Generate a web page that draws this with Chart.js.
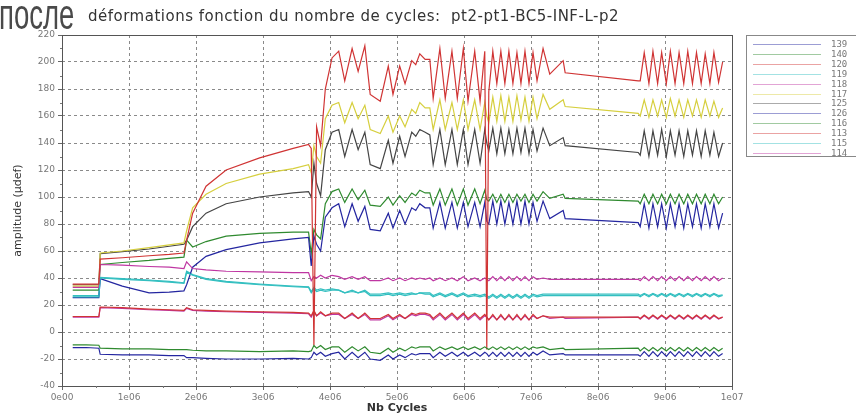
<!DOCTYPE html>
<html>
<head>
<meta charset="utf-8">
<script src="https://cdn.jsdelivr.net/npm/chart.js@4"></script>
<style>
  body { margin: 0; background: #fff; }
  #wrap { position: relative; width: 856px; height: 416px; overflow: hidden; }
  #bigword { position: absolute; left: -1px; top: -10px; font-family: "Liberation Sans", sans-serif; font-size: 43px; color: #4a4a4a; transform: scaleX(0.64); transform-origin: left top; white-space: nowrap; }
  #title { position: absolute; left: 88px; top: 7px; font-family: "DejaVu Sans", sans-serif; font-size: 15px; letter-spacing: 0.5px; color: #333; white-space: pre; }
  canvas { position: absolute; left: 0; top: 0; }
</style>
</head>
<body>
<div id="wrap">
  <canvas id="strainChart" width="856" height="416"></canvas>
  <div id="bigword">после</div>
  <div id="title">déformations fonction du nombre de cycles:  pt2-pt1-BC5-INF-L-p2</div>
</div>
<script>
// nb cycles, in millions
const cycles = [
    0.16, 0.36, 0.55,
    0.57, 0.9, 1.3, 1.6, 1.82,
    1.86, 1.95, 2.15, 2.45, 2.95, 3.45, 3.68,
    3.72, 3.76, 3.80, 3.86, 3.93,
    4.03, 4.13, 4.22, 4.33, 4.42, 4.52, 4.60, 4.75, 4.87, 4.94, 5.04, 5.12, 5.22, 5.28, 5.34, 5.42, 5.49, 5.54, 5.64, 5.72, 5.82, 5.90, 5.99, 6.06, 6.16, 6.24, 6.31,
    6.34, 6.37, 6.43, 6.49, 6.55, 6.61, 6.67, 6.73, 6.79, 6.85, 6.91, 6.97, 7.03, 7.09,
    7.18, 7.28, 7.48, 7.51, 8.60,
    8.63, 8.69, 8.76, 8.82, 8.89, 8.95, 9.02, 9.08, 9.15, 9.21, 9.28, 9.34, 9.41, 9.47, 9.54, 9.60, 9.67, 9.73, 9.80, 9.86
];

const gauges = ['139', '140', '120', '119', '118', '117', '125', '126', '116', '113', '115', '114'];

const g139 = [
    -11.5, -11.5, -12,
    -16.5, -17, -17, -17.5, -17.5,
    -19, -19, -19.5, -20, -20, -19.5, -20,
    -19, -15, -17, -15, -18,
    -16, -15, -20, -15, -19, -15, -20, -21, -17, -20, -17, -19, -16, -17, -16, -16, -16, -19, -15, -18, -15, -18, -15, -18, -15, -18, -15,
    -16, -18, -15, -18, -15, -18, -15, -18, -15, -18, -15, -18, -15, -17,
    -14, -17, -16, -17, -17,
    -18, -14.5, -18, -14.5, -18, -14.5, -18, -14.5, -18, -14.5, -18, -14.5, -18, -14.5, -18, -14.5, -18, -14.5, -18, -16
];
const g140 = [
    -9.6, -9.6, -9.8,
    -12, -12.5, -12.5, -13, -13,
    -13, -13.5, -14, -14, -14.5, -14, -14.5,
    -14, -10, -12, -10, -13,
    -11, -11, -15, -11, -14, -11, -15, -16, -12, -15, -12, -14, -11, -12, -11, -11, -11, -14, -11, -13, -11, -13, -11, -13, -11, -13, -11,
    -12, -13, -11, -13, -11, -13, -11, -13, -11, -13, -11, -13, -11, -12,
    -11, -13, -12, -13, -12,
    -14, -11.5, -14, -11.5, -14, -11.5, -14, -11.5, -14, -11.5, -14, -11.5, -14, -11.5, -14, -11.5, -14, -11.5, -14, -12
];
const g120 = [
    35.5, 35.5, 35.5,
    54, 55, 56.5, 57.5, 58.5,
    68, 88, 108, 120, 129, 136, 139,
    136, -10, 152, 138, 180,
    203, 208, 186, 210, 193, 212, 176, 171, 197, 176, 197, 184, 201, 198, 206, 202, 202, 173, 210, 173, 208, 173, 210, 171, 208, 171, 208,
    -13, 178, 208, 184, 208, 184, 208, 184, 207, 184, 208, 184, 207, 186,
    210, 191, 201, 192, 186,
    186, 207, 184, 208, 184, 207, 184, 208, 184, 207, 184, 208, 184, 207, 184, 206, 184, 207, 185, 200
];
const g119 = [
    26, 26, 26,
    40, 39, 38, 37, 36,
    44, 42, 39, 37, 35, 33.5, 33,
    29, 32, 30, 31, 30,
    31, 31, 29, 30, 29, 30, 27, 27, 28, 27, 28, 27, 28, 28, 29, 28, 28, 26, 28, 26, 28, 26, 28, 26, 27, 26, 27,
    26, 25, 27, 25, 27, 25, 27, 25, 27, 25, 27, 25, 27, 26,
    27, 27, 27, 27, 27,
    26, 28, 26, 28, 26, 28, 26, 28, 26, 28, 26, 28, 26, 28, 26, 28, 26, 28, 26, 27
];
const g118 = [
    33, 33, 33,
    50, 49.5, 48.5, 48, 47,
    52, 47, 46, 45, 44.5, 44, 44,
    38, 41, 40, 42, 40,
    42, 41, 39, 41, 39, 41, 38, 38, 40, 38, 40, 38, 40, 39, 40, 39, 40, 38, 40, 38, 40, 38, 41, 38, 40, 38, 40,
    39, 38, 41, 38, 41, 38, 41, 38, 41, 38, 41, 38, 41, 39,
    40, 39, 39, 39, 39,
    38, 41, 38, 41, 38, 41, 38, 41, 38, 41, 38, 41, 38, 41, 38, 41, 38, 41, 38, 40
];
const g117 = [
    34, 34, 34,
    58.5, 60, 62.5, 64.5, 66,
    75, 92, 102, 110, 117, 121, 124,
    118, 138, 130, 125, 158,
    168, 170, 155, 170, 158, 168, 150, 147, 160, 148, 160, 152, 165, 162, 170, 166, 166, 150, 172, 150, 170, 150, 172, 150, 172, 150, 170,
    160, 155, 174, 156, 175, 156, 174, 156, 175, 157, 174, 156, 174, 158,
    176, 165, 172, 167, 162,
    160, 172, 159, 172, 160, 172, 159, 173, 160, 172, 159, 172, 160, 172, 159, 172, 160, 171, 159, 166
];
const g125 = [
    35, 35, 35,
    58, 59.5, 61.5, 63.5, 65,
    68, 78, 88, 95, 100, 103, 104,
    100, 125, 110, 101, 135,
    148, 150, 130, 150, 135, 148, 124, 121, 142, 125, 145, 130, 148, 145, 150, 148, 146, 124, 150, 124, 150, 124, 150, 124, 150, 125, 150,
    140, 134, 151, 132, 151, 132, 150, 132, 151, 133, 151, 132, 150, 134,
    151, 138, 144, 138, 133,
    131, 149, 130, 149, 131, 150, 130, 149, 131, 149, 130, 149, 131, 149, 130, 149, 131, 148, 130, 140
];
const g126 = [
    25.5, 25.5, 25.5,
    39.5, 34, 29, 29.5, 30.5,
    35, 48, 56, 61, 66, 69, 70,
    49, 71, 65, 60, 85,
    92, 95, 78, 95, 82, 93, 76, 75, 88, 77, 90, 80, 92, 90, 95, 92, 92, 77, 96, 77, 96, 77, 96, 78, 96, 78, 96,
    82, 80, 97, 80, 97, 80, 96, 80, 97, 80, 97, 80, 96, 82,
    97, 84, 90, 84, 81,
    78, 95, 77, 95, 78, 95, 77, 95, 78, 95, 77, 95, 78, 95, 77, 95, 78, 95, 77, 88
];
const g116 = [
    31, 31, 31,
    50, 51.5, 53, 54.5, 55.5,
    68, 63, 67, 71, 73, 74, 74,
    58, 76, 72, 69, 95,
    104, 106, 96, 106, 98, 105, 94, 93, 100, 94, 101, 96, 103, 101, 105, 103, 103, 94, 106, 94, 106, 94, 106, 94, 106, 95, 105,
    98, 97, 102, 96, 102, 96, 102, 96, 102, 97, 102, 96, 102, 97,
    104, 99, 102, 99, 97,
    95, 102, 95, 102, 95, 102, 95, 102, 95, 102, 95, 102, 95, 102, 95, 102, 95, 102, 95, 100
];
const g113 = [
    11.5, 11.5, 11.5,
    18.5, 18, 17, 16.5, 16,
    18, 16.5, 16, 15.5, 15, 14.5, 14,
    12, 16, 12, 15, 12,
    14, 14, 10, 14, 10, 14, 10, 10, 13, 10, 13, 10, 14, 13, 14, 14, 13, 10, 14, 10, 14, 10, 14, 10, 14, 10, 13,
    11, 9, 13, 9, 13, 9, 13, 9, 13, 9, 13, 9, 13, 10,
    12, 11, 11, 11, 11,
    10, 12.5, 10, 12.5, 10, 12.5, 10, 12.5, 10, 12.5, 10, 12.5, 10, 12.5, 10, 12.5, 10, 12.5, 10, 11
];
const g115 = [
    27, 27, 27,
    40.5, 39.5, 38.5, 37.5, 36.5,
    45, 42.5, 39.5, 37.5, 35.5, 34, 33.5,
    30, 33, 31, 32, 31,
    32, 31, 29, 31, 29, 31, 28, 28, 29, 28, 29, 28, 29, 28, 29, 29, 29, 27, 29, 27, 29, 27, 29, 27, 28, 27, 28,
    27, 26, 28, 26, 28, 26, 28, 26, 28, 26, 28, 26, 28, 27,
    28, 28, 28, 28, 28,
    27, 28.5, 27, 28.5, 27, 28.5, 27, 28.5, 27, 28.5, 27, 28.5, 27, 28.5, 27, 28.5, 27, 28.5, 27, 27.5
];
const g114 = [
    11, 11, 11,
    18, 17.5, 16.5, 16, 15.5,
    17.5, 16, 15.5, 15, 14.5, 14, 13.5,
    11, 15, 12, 14, 12,
    13, 13, 10, 13, 10, 13, 9, 9, 12, 9, 12, 10, 13, 12, 13, 13, 12, 9, 13, 9, 13, 9, 13, 9, 13, 9, 12,
    11, 9, 12, 9, 12, 9, 12, 9, 12, 9, 12, 9, 12, 10,
    12, 10, 11, 10, 11,
    9.5, 12, 9.5, 12, 9.5, 12, 9.5, 12, 9.5, 12, 9.5, 12, 9.5, 12, 9.5, 12, 9.5, 12, 9.5, 11
];

const yTicks = [-40, -20, 0, 20, 40, 60, 80, 100, 120, 140, 160, 180, 200, 220];

// b g r c m y k cycle
const lineColors = ['#2426a0', '#2f8a2f', '#d03434', '#33bfc0', '#bf36a2', '#d6cf3e', '#444444',
                    '#2426a0', '#2f8a2f', '#d03434', '#33bfc0', '#bf36a2'];
const legendColors = ['rgba(36,38,160,0.45)', 'rgba(47,138,47,0.45)', 'rgba(208,52,52,0.45)', 'rgba(51,191,192,0.45)',
                      'rgba(191,54,162,0.45)', 'rgba(214,207,62,0.45)', 'rgba(68,68,68,0.45)', 'rgba(36,38,160,0.45)',
                      'rgba(47,138,47,0.45)', 'rgba(208,52,52,0.45)', 'rgba(51,191,192,0.45)', 'rgba(191,54,162,0.45)'];

const series = [g139, g140, g120, g119, g118, g117, g125, g126, g116, g113, g115, g114];

function sciLabel(m) {
    // m in millions of cycles
    const v = Math.round(m * 1e6);
    if (v === 0) return '0e00';
    const e = Math.floor(Math.log10(v));
    const mant = Math.round(v / Math.pow(10, e));
    return mant + 'e' + (e < 10 ? '0' + e : e);
}

const framePlugin = {
    id: 'frame',
    afterDraw(chart) {
        const ctx = chart.ctx;
        const a = chart.chartArea;
        const xs = chart.scales.x, ys = chart.scales.y;
        ctx.save();
        ctx.strokeStyle = '#555';
        ctx.lineWidth = 1;
        ctx.strokeRect(Math.round(a.left) + 0.5, Math.round(a.top) + 0.5, Math.round(a.right - a.left), Math.round(a.bottom - a.top));
        // minor ticks
        ctx.strokeStyle = '#777';
        ctx.beginPath();
        for (let m = 0.5; m < 10; m += 1) {
            const px = Math.round(xs.getPixelForValue(m)) + 0.5;
            ctx.moveTo(px, a.bottom); ctx.lineTo(px, a.bottom + 2);
        }
        for (let v = -30; v < 220; v += 20) {
            const py = Math.round(ys.getPixelForValue(v)) + 0.5;
            ctx.moveTo(a.left - 2, py); ctx.lineTo(a.left, py);
        }
        ctx.stroke();

        // legend box
        ctx.strokeStyle = '#888';
        ctx.strokeRect(746.5, 35.5, 130, 121);
        ctx.font = '9px "DejaVu Sans Mono", monospace';
        ctx.fillStyle = '#777';
        ctx.textBaseline = 'middle';
        gauges.forEach((name, i) => {
            const y = Math.round(44 + i * 9.9) + 0.5;
            ctx.strokeStyle = legendColors[i];
            ctx.lineWidth = 1.2;
            ctx.beginPath();
            ctx.moveTo(753, y); ctx.lineTo(821, y);
            ctx.stroke();
            ctx.fillText(name, 831, y);
        });
        ctx.restore();
    }
};

document.addEventListener('DOMContentLoaded', function() {
    const ctx = document.getElementById('strainChart').getContext('2d');

    const datasets = gauges.map((name, i) => ({
        label: name,
        data: cycles.map((c, j) => ({ x: c, y: series[i][j] })),
        borderColor: lineColors[i],
        backgroundColor: lineColors[i],
        borderWidth: 1.2,
        pointRadius: 0,
        tension: 0,
        fill: false
    }));

    new Chart(ctx, {
        type: 'line',
        data: { datasets: datasets },
        options: {
            responsive: false,
            animation: false,
            layout: { padding: { left: 0, right: 124, top: 35, bottom: 0 } },
            plugins: {
                legend: { display: false },
                title: { display: false },
                tooltip: { enabled: false }
            },
            scales: {
                x: {
                    type: 'linear',
                    min: 0,
                    max: 10,
                    afterFit: function(scale) { scale.height = 30; },
                    ticks: {
                        stepSize: 1,
                        color: '#777',
                        font: { family: 'DejaVu Sans', size: 9 },
                        padding: 2,
                        maxRotation: 0,
                        callback: function(v) { return sciLabel(v); }
                    },
                    grid: {
                        color: '#8a8a8a',
                        tickLength: 4,
                        tickColor: '#666',
                        tickBorderDash: []
                    },
                    border: { display: false, dash: [3, 3] },
                    title: {
                        display: true,
                        text: 'Nb Cycles',
                        color: '#333',
                        font: { family: 'DejaVu Sans', size: 11, weight: 'bold' },
                        padding: { top: 0, bottom: 1 }
                    }
                },
                y: {
                    type: 'linear',
                    min: yTicks[0],
                    max: yTicks[yTicks.length - 1],
                    afterFit: function(scale) { scale.width = 62; },
                    afterBuildTicks: function(scale) { scale.ticks = yTicks.map(v => ({ value: v })); },
                    ticks: {
                        color: '#777',
                        font: { family: 'DejaVu Sans', size: 9 },
                        padding: 3
                    },
                    grid: {
                        color: '#8a8a8a',
                        tickLength: 4,
                        tickColor: '#666',
                        tickBorderDash: []
                    },
                    border: { display: false, dash: [3, 3] },
                    title: {
                        display: true,
                        text: 'amplitude (µdef)',
                        color: '#333',
                        font: { family: 'DejaVu Sans', size: 11 },
                        padding: { top: 12, bottom: 0 }
                    }
                }
            }
        },
        plugins: [framePlugin]
    });
});
</script>
</body>
</html>
